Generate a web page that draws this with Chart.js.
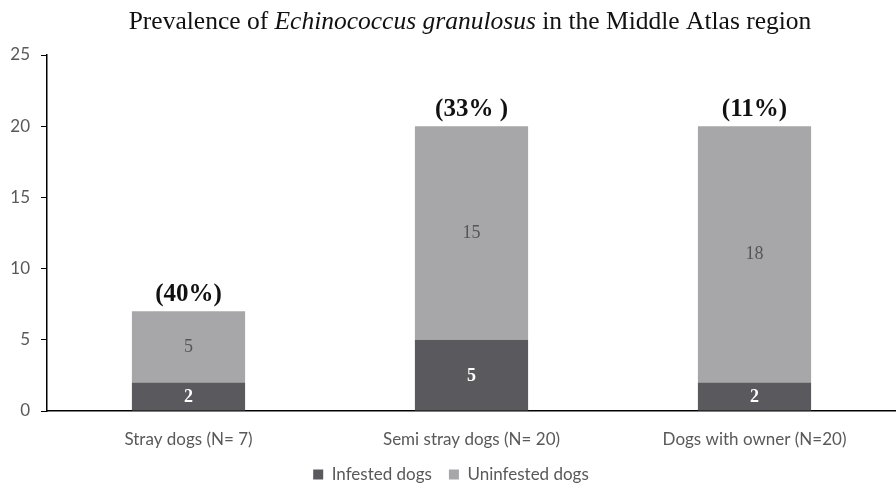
<!DOCTYPE html>
<html>
<head>
<meta charset="utf-8">
<script src="https://cdn.jsdelivr.net/npm/chart.js@4.4.1/dist/chart.umd.min.js"></script>
<style>
  html, body { margin: 0; padding: 0; background: #fff; }
  #wrap { width: 896px; height: 487px; position: relative; }
</style>
</head>
<body>
<div id="wrap"><canvas id="c" width="896" height="487"></canvas></div>
<script>
const categories = ['Stray dogs (N= 7)', 'Semi stray dogs (N= 20)', 'Dogs with owner (N=20)'];
const infested = [2, 5, 2];
const uninfested = [5, 15, 18];
const prevalenceLabels = ['(40%)', '(33% )', '(11%)'];
const yTicks = [0, 5, 10, 15, 20, 25];

const DARK = '#5a5a5e';
const LIGHT = '#a7a7a9';
const SERIF = '"Liberation Serif", "Times New Roman", serif';
const SANS = 'Lato, "Open Sans", sans-serif';

// Title with an italic species name, drawn in parts
const titlePlugin = {
  id: 'mixedTitle',
  afterDraw(chart) {
    const ctx = chart.ctx;
    const parts = [
      { t: 'Prevalence of ', f: '25.5px ' + SERIF },
      { t: 'Echinococcus granulosus', f: 'italic 25.5px ' + SERIF },
      { t: ' in the Middle Atlas region', f: '25.5px ' + SERIF }
    ];
    ctx.save();
    let total = 0;
    parts.forEach(p => { ctx.font = p.f; p.w = ctx.measureText(p.t).width; total += p.w; });
    let x = 470 - total / 2;
    ctx.fillStyle = '#111';
    ctx.textBaseline = 'middle';
    parts.forEach(p => { ctx.font = p.f; ctx.fillText(p.t, x, 22); x += p.w; });
    ctx.restore();
  }
};

// Segment values inside bars and prevalence above each stack
const valueLabels = {
  id: 'valueLabels',
  afterDatasetsDraw(chart) {
    const ctx = chart.ctx;
    ctx.save();
    ctx.textAlign = 'center';
    ctx.textBaseline = 'middle';
    const m0 = chart.getDatasetMeta(0);
    const m1 = chart.getDatasetMeta(1);
    m0.data.forEach((bar, i) => {
      ctx.font = 'bold 18px ' + SERIF;
      ctx.fillStyle = '#ffffff';
      ctx.fillText(String(infested[i]), bar.x, (bar.y + bar.base) / 2 + 1);
    });
    m1.data.forEach((bar, i) => {
      ctx.font = '18px ' + SERIF;
      ctx.fillStyle = '#555555';
      ctx.fillText(String(uninfested[i]), bar.x, (bar.y + bar.base) / 2);
      ctx.font = 'bold 25px ' + SERIF;
      ctx.fillStyle = '#111111';
      ctx.fillText(prevalenceLabels[i], bar.x, bar.y - 17);
    });
    ctx.restore();
  }
};

new Chart(document.getElementById('c'), {
  type: 'bar',
  data: {
    labels: categories,
    datasets: [
      { label: 'Infested dogs', data: infested, backgroundColor: DARK, borderWidth: 0 },
      { label: 'Uninfested dogs', data: uninfested, backgroundColor: LIGHT, borderWidth: 0 }
    ]
  },
  options: {
    responsive: false,
    animation: false,
    layout: { padding: { top: 55, right: -6, left: 0, bottom: -6 } },
    datasets: { bar: { categoryPercentage: 1.0, barPercentage: 0.4 } },
    plugins: {
      title: { display: false },
      tooltip: { enabled: false },
      legend: {
        position: 'bottom',
        labels: {
          boxWidth: 10, boxHeight: 10, padding: 17,
          color: '#595959',
          font: { family: SANS, size: 17 }
        }
      }
    },
    scales: {
      x: {
        stacked: true,
        afterFit(scale) { scale.height = 38; },
        grid: { display: false },
        border: { display: true, color: '#000', width: 1.5 },
        ticks: { color: '#595959', font: { family: SANS, size: 17 }, padding: 10 }
      },
      y: {
        stacked: true,
        min: 0, max: 25,
        afterBuildTicks(scale) { scale.ticks = yTicks.map(v => ({ value: v })); },
        afterFit(scale) { scale.width = 47; },
        grid: { drawOnChartArea: false, drawTicks: true, tickLength: 6, color: '#000' },
        border: { display: true, color: '#000', width: 1.5 },
        ticks: { color: '#595959', font: { family: SANS, size: 17 }, padding: 11 }
      }
    }
  },
  plugins: [titlePlugin, valueLabels]
});
</script>
</body>
</html>
